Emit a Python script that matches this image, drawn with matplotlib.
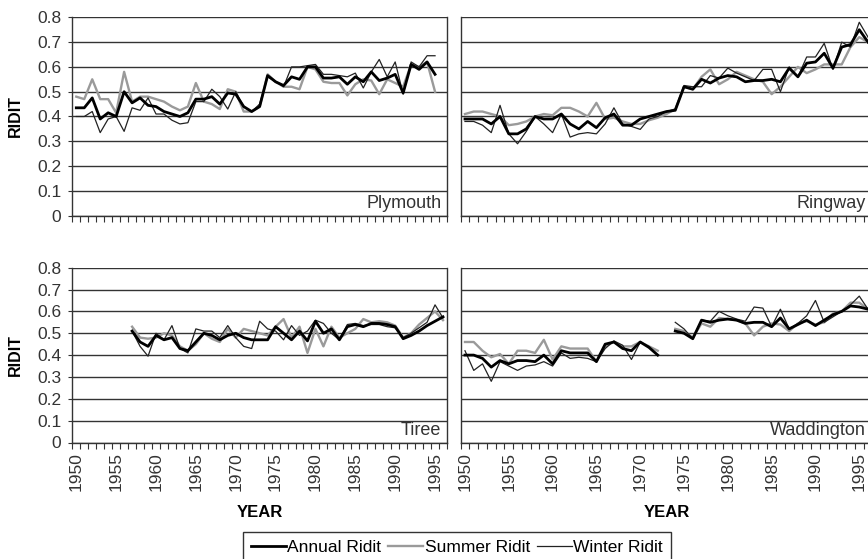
import matplotlib
matplotlib.use("Agg")
import matplotlib.pyplot as plt
import numpy as np
from matplotlib.lines import Line2D

plt.rcParams["font.family"] = ["Liberation Sans", "DejaVu Sans"]

years = np.arange(1950, 1997)
label_years = np.arange(1950, 1996, 5)

# Plymouth, 1950-1995
plymouth_annual = [0.435, 0.435, 0.475, 0.39, 0.415, 0.40, 0.50, 0.455, 0.475, 0.445,
                   0.44, 0.42, 0.41, 0.40, 0.415, 0.47, 0.47, 0.48, 0.45, 0.495,
                   0.49, 0.44, 0.42, 0.44, 0.565, 0.54, 0.525, 0.56, 0.55, 0.60,
                   0.60, 0.555, 0.555, 0.56, 0.53, 0.56, 0.54, 0.58, 0.545, 0.555,
                   0.57, 0.495, 0.61, 0.59, 0.62, 0.57]
plymouth_summer = [0.48, 0.47, 0.55, 0.47, 0.47, 0.415, 0.58, 0.46, 0.48, 0.48,
                   0.47, 0.46, 0.44, 0.425, 0.44, 0.535, 0.46, 0.45, 0.43, 0.51,
                   0.50, 0.42, 0.42, 0.44, 0.57, 0.54, 0.52, 0.52, 0.51, 0.60,
                   0.59, 0.54, 0.535, 0.535, 0.485, 0.53, 0.55, 0.545, 0.49, 0.55,
                   0.535, 0.52, 0.61, 0.60, 0.62, 0.50]
plymouth_winter = [0.40, 0.40, 0.42, 0.335, 0.39, 0.40, 0.34, 0.435, 0.425, 0.475,
                   0.41, 0.41, 0.385, 0.37, 0.375, 0.46, 0.46, 0.51, 0.48, 0.43,
                   0.50, 0.44, 0.42, 0.45, 0.56, 0.54, 0.52, 0.60, 0.60, 0.605,
                   0.61, 0.57, 0.57, 0.565, 0.56, 0.575, 0.515, 0.58, 0.63, 0.56,
                   0.62, 0.49, 0.62, 0.60, 0.645, 0.645]

# Ringway, 1950-1996
ringway_annual = [0.39, 0.39, 0.39, 0.37, 0.40, 0.33, 0.33, 0.35, 0.40, 0.39,
                  0.39, 0.41, 0.37, 0.35, 0.38, 0.355, 0.395, 0.41, 0.365, 0.365,
                  0.39, 0.40, 0.41, 0.42, 0.425, 0.52, 0.51, 0.55, 0.535, 0.555,
                  0.565, 0.56, 0.54, 0.545, 0.545, 0.55, 0.54, 0.595, 0.56, 0.615,
                  0.62, 0.655, 0.595, 0.68, 0.69, 0.75, 0.70]
ringway_summer = [0.41, 0.42, 0.42, 0.41, 0.40, 0.365, 0.37, 0.38, 0.40, 0.41,
                  0.405, 0.435, 0.435, 0.42, 0.40, 0.455, 0.39, 0.395, 0.38, 0.37,
                  0.37, 0.385, 0.395, 0.41, 0.43, 0.52, 0.51, 0.56, 0.59, 0.53,
                  0.55, 0.58, 0.565, 0.55, 0.54, 0.49, 0.52, 0.56, 0.60, 0.575,
                  0.59, 0.61, 0.61, 0.61, 0.68, 0.72, 0.70]
ringway_winter = [0.38, 0.38, 0.365, 0.335, 0.445, 0.33, 0.29, 0.34, 0.40, 0.37,
                  0.335, 0.41, 0.317, 0.33, 0.335, 0.33, 0.37, 0.435, 0.37, 0.36,
                  0.348, 0.39, 0.40, 0.42, 0.43, 0.525, 0.52, 0.52, 0.565, 0.555,
                  0.595, 0.575, 0.56, 0.545, 0.59, 0.59, 0.50, 0.60, 0.56, 0.64,
                  0.64, 0.695, 0.59, 0.70, 0.68, 0.78, 0.72]

# Tiree, 1957-1996
tiree_start = 1957
tiree_annual = [0.51, 0.46, 0.44, 0.49, 0.47, 0.48, 0.43, 0.42, 0.46, 0.50,
                0.49, 0.47, 0.49, 0.50, 0.48, 0.47, 0.47, 0.47, 0.53, 0.50,
                0.47, 0.51, 0.465, 0.555, 0.50, 0.52, 0.47, 0.53, 0.54, 0.53,
                0.545, 0.545, 0.54, 0.53, 0.475, 0.49, 0.51, 0.535, 0.555, 0.575]
tiree_summer = [0.53, 0.48, 0.475, 0.48, 0.50, 0.49, 0.44, 0.42, 0.45, 0.50,
                0.475, 0.46, 0.52, 0.48, 0.52, 0.51, 0.50, 0.49, 0.53, 0.565,
                0.48, 0.53, 0.41, 0.52, 0.44, 0.53, 0.48, 0.50, 0.52, 0.565,
                0.55, 0.555, 0.55, 0.535, 0.48, 0.50, 0.54, 0.57, 0.60, 0.56]
tiree_winter = [0.51, 0.44, 0.395, 0.50, 0.47, 0.535, 0.43, 0.41, 0.52, 0.51,
                0.51, 0.48, 0.535, 0.48, 0.44, 0.43, 0.555, 0.52, 0.51, 0.47,
                0.535, 0.49, 0.51, 0.56, 0.545, 0.50, 0.47, 0.54, 0.545, 0.535,
                0.54, 0.54, 0.53, 0.525, 0.48, 0.50, 0.525, 0.55, 0.63, 0.57]

# Waddington, 1950-1996, no record for 1973 (None)
waddington_annual = [0.40, 0.40, 0.385, 0.345, 0.375, 0.36, 0.375, 0.375, 0.37, 0.40,
                     0.36, 0.42, 0.41, 0.41, 0.41, 0.37, 0.45, 0.46, 0.43, 0.42,
                     0.46, 0.435, 0.40, None, 0.51, 0.50, 0.475, 0.56, 0.55, 0.56,
                     0.565, 0.56, 0.545, 0.55, 0.55, 0.53, 0.57, 0.52, 0.54, 0.56,
                     0.535, 0.56, 0.585, 0.60, 0.625, 0.62, 0.61]
waddington_summer = [0.46, 0.46, 0.42, 0.39, 0.405, 0.36, 0.42, 0.42, 0.41, 0.47,
                     0.38, 0.44, 0.43, 0.43, 0.43, 0.37, 0.44, 0.46, 0.44, 0.44,
                     0.46, 0.44, 0.42, None, 0.52, 0.51, 0.48, 0.545, 0.53, 0.57,
                     0.565, 0.56, 0.545, 0.49, 0.53, 0.545, 0.54, 0.51, 0.545, 0.555,
                     0.54, 0.55, 0.59, 0.60, 0.64, 0.64, 0.61]
waddington_winter = [0.42, 0.33, 0.36, 0.28, 0.37, 0.35, 0.33, 0.35, 0.355, 0.37,
                     0.35, 0.41, 0.385, 0.39, 0.385, 0.37, 0.43, 0.465, 0.445, 0.38,
                     0.46, 0.44, 0.40, None, 0.55, 0.52, 0.475, 0.56, 0.555, 0.60,
                     0.58, 0.565, 0.555, 0.62, 0.615, 0.53, 0.61, 0.52, 0.545, 0.58,
                     0.65, 0.55, 0.575, 0.60, 0.63, 0.67, 0.61]


def pad(values, start=1950):
    out = np.full(len(years), np.nan)
    vals = np.array([np.nan if v is None else v for v in values], dtype=float)
    i0 = start - years[0]
    out[i0:i0 + len(vals)] = vals
    return out


stations = [
    ("Plymouth", plymouth_annual, plymouth_summer, plymouth_winter, 1950),
    ("Ringway", ringway_annual, ringway_summer, ringway_winter, 1950),
    ("Tiree", tiree_annual, tiree_summer, tiree_winter, tiree_start),
    ("Waddington", waddington_annual, waddington_summer, waddington_winter, 1950),
]

W, H = 868, 559
fig = plt.figure(figsize=(W / 100, H / 100), dpi=100)


def px_axes(x0, x1, ytop, ybot):
    return fig.add_axes([x0 / W, 1 - ybot / H, (x1 - x0) / W, (ybot - ytop) / H])


axes = [
    px_axes(72.3, 447.0, 17.3, 215.7),
    px_axes(460.6, 872.4, 17.3, 215.7),
    px_axes(72.3, 447.0, 267.7, 442.5),
    px_axes(460.6, 872.4, 267.7, 442.5),
]

dark = "#222222"
grey = "#9a9a9a"
txt = "#333333"
narrow = ["Liberation Sans Narrow", "Liberation Sans"]

for k, (ax, (name, ann, summ, wint, start)) in enumerate(zip(axes, stations)):
    ax.set_xlim(1949.5, 1996.5)
    ax.set_ylim(0, 0.8)
    ax.set_yticks(np.arange(0, 0.81, 0.1))
    ax.grid(axis="y", color="#333333", linewidth=1.0)
    ax.set_axisbelow(True)
    for side in ["left", "bottom", "right"]:
        ax.spines[side].set_color("#333333")
        ax.spines[side].set_linewidth(1.0)
    ax.spines["top"].set_visible(False)

    ax.plot(years, pad(summ, start), color=grey, lw=1.7, zorder=3)
    ax.plot(years, pad(wint, start), color=dark, lw=0.9, zorder=4)
    ax.plot(years, pad(ann, start), color="black", lw=2.0, zorder=5)

    # year ticks sit between categories, labels every five years
    ax.set_xticks(np.arange(1949.5, 1997, 1), minor=True)
    ax.tick_params(axis="x", which="minor", length=4, width=0.8, color="#333333", direction="out")
    ax.set_xticks(label_years)
    ax.tick_params(axis="x", which="major", length=0, pad=7)
    if k >= 2:
        ax.set_xticklabels([str(y) for y in label_years], rotation=90,
                           fontsize=12.5, color=txt)
        ax.set_xlabel("YEAR", fontsize=12, fontweight="bold", family=narrow, labelpad=10)
    else:
        ax.set_xticklabels([])

    if k % 2 == 0:
        ax.set_yticklabels(["0", "0.1", "0.2", "0.3", "0.4", "0.5", "0.6", "0.7", "0.8"],
                           fontsize=12.5, color=txt)
        ax.tick_params(axis="y", length=3, width=0.8, color="#333333", pad=5)
        ax.set_ylabel("RIDIT", fontsize=11.5, fontweight="bold", labelpad=10)
        ax.text(0.985, 0.02, name, transform=ax.transAxes, ha="right", va="bottom",
                fontsize=13, color=txt)
    else:
        ax.set_yticklabels([])
        ax.tick_params(axis="y", length=0)
        ax.spines["right"].set_visible(False)
        xr = (866 - 460.6) / (872.4 - 460.6)
        ax.text(xr, 0.02, name, transform=ax.transAxes, ha="right", va="bottom",
                fontsize=13, color=txt)

handles = [
    Line2D([], [], color="black", lw=2.0),
    Line2D([], [], color=grey, lw=1.7),
    Line2D([], [], color=dark, lw=0.9),
]
leg = fig.legend(handles, ["Annual Ridit", "Summer Ridit", "Winter Ridit"],
                 loc="center", bbox_to_anchor=(457 / W, 1 - 547 / H), ncol=3,
                 frameon=True, fancybox=False, edgecolor="black",
                 handlelength=2.0, handletextpad=0.1, columnspacing=0.4,
                 borderpad=0.45,
                 prop={"family": narrow, "size": 12.5})
leg.get_frame().set_linewidth(1.0)

fig.savefig("out.png", dpi=100)
